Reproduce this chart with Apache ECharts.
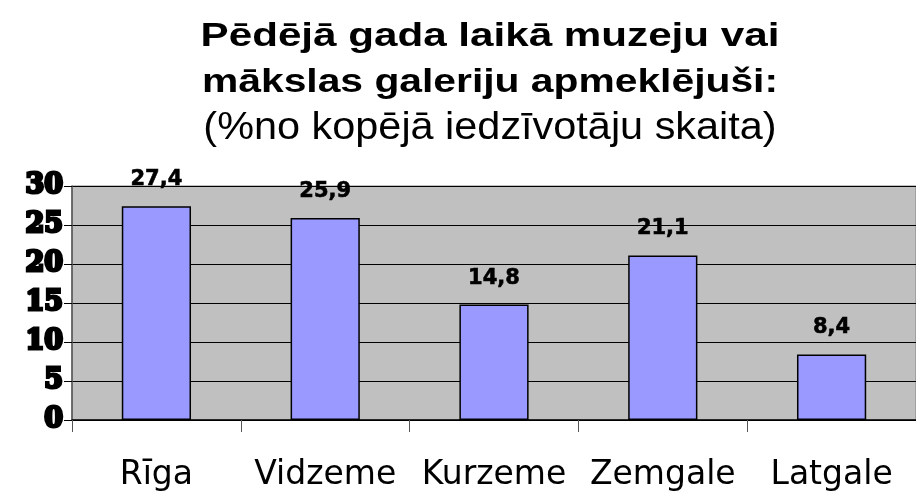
<!DOCTYPE html>
<html>
<head>
<meta charset="utf-8">
<script src="https://cdn.jsdelivr.net/npm/echarts@6/dist/echarts.min.js"></script>
<style>
  html, body { margin: 0; padding: 0; background: #ffffff; }
  #chart { width: 916px; height: 495px; }
</style>
</head>
<body>
<div id="chart"></div>
<script>
// Regions of Latvia and the share of residents who visited a museum or gallery
const regions = ['Rīga', 'Vidzeme', 'Kurzeme', 'Zemgale', 'Latgale'];
const visitorShare = [27.4, 25.9, 14.8, 21.1, 8.4];
const yTicks = [0, 5, 10, 15, 20, 25, 30];
const titleLines = ['Pēdējā gada laikā muzeju vai', 'mākslas galeriju apmeklējuši:'];
const subtitle = '(%no kopējā iedzīvotāju skaita)';

const chart = echarts.init(document.getElementById('chart'), null, { renderer: 'canvas' });

// Wide, horizontally stretched heading text
function headingText(text, y, font, scaleX) {
  return {
    type: 'text',
    x: 490,
    y: y,
    scaleX: scaleX,
    silent: true,
    style: {
      text: text,
      font: font,
      fill: '#000000',
      align: 'center',
      verticalAlign: 'middle'
    }
  };
}

chart.setOption({
  backgroundColor: '#ffffff',
  animation: false,
  graphic: [
    headingText(titleLines[0], 37, 'bold 34px "Liberation Sans", Arial, sans-serif', 1.24),
    headingText(titleLines[1], 83, 'bold 34px "Liberation Sans", Arial, sans-serif', 1.2),
    headingText(subtitle, 129, '38px "Liberation Sans", Arial, sans-serif', 1.09)
  ],
  grid: {
    left: 72,
    width: 850,
    top: 186,
    height: 234,
    show: true,
    backgroundColor: '#c0c0c0',
    borderColor: '#808080',
    borderWidth: 1
  },
  xAxis: {
    type: 'category',
    data: regions,
    axisLine: { show: true, lineStyle: { color: '#000000', width: 1.5 } },
    axisTick: { show: true, interval: 0, length: 12, lineStyle: { color: '#555555', width: 1 } },
    axisLabel: {
      interval: 0,
      hideOverlap: false,
      margin: 39,
      fontFamily: 'DejaVu Sans, sans-serif',
      fontSize: 33,
      color: '#000000'
    }
  },
  yAxis: {
    type: 'value',
    min: yTicks[0],
    max: yTicks[yTicks.length - 1],
    interval: 5,
    axisLine: { show: true, lineStyle: { color: '#555555', width: 1.5 } },
    axisTick: { show: true, length: 8, lineStyle: { color: '#000000', width: 1 } },
    splitLine: { show: true, lineStyle: { color: '#000000', width: 1 } },
    axisLabel: {
      margin: 9,
      fontFamily: 'DejaVu Serif, serif',
      fontWeight: 900,
      fontSize: 27,
      color: '#000000',
      textBorderColor: '#000000',
      textBorderWidth: 3
    }
  },
  series: [{
    type: 'bar',
    data: visitorShare,
    barWidth: '41%',
    itemStyle: { color: '#9999ff', borderColor: '#000000', borderWidth: 1.5 },
    label: {
      show: true,
      position: 'top',
      distance: 16,
      formatter: p => String(p.value).replace('.', ','),
      fontFamily: 'DejaVu Sans, sans-serif',
      fontWeight: 'bold',
      fontSize: 21,
      color: '#000000',
      textBorderColor: '#000000',
      textBorderWidth: 0.6
    }
  }]
});
</script>
</body>
</html>
